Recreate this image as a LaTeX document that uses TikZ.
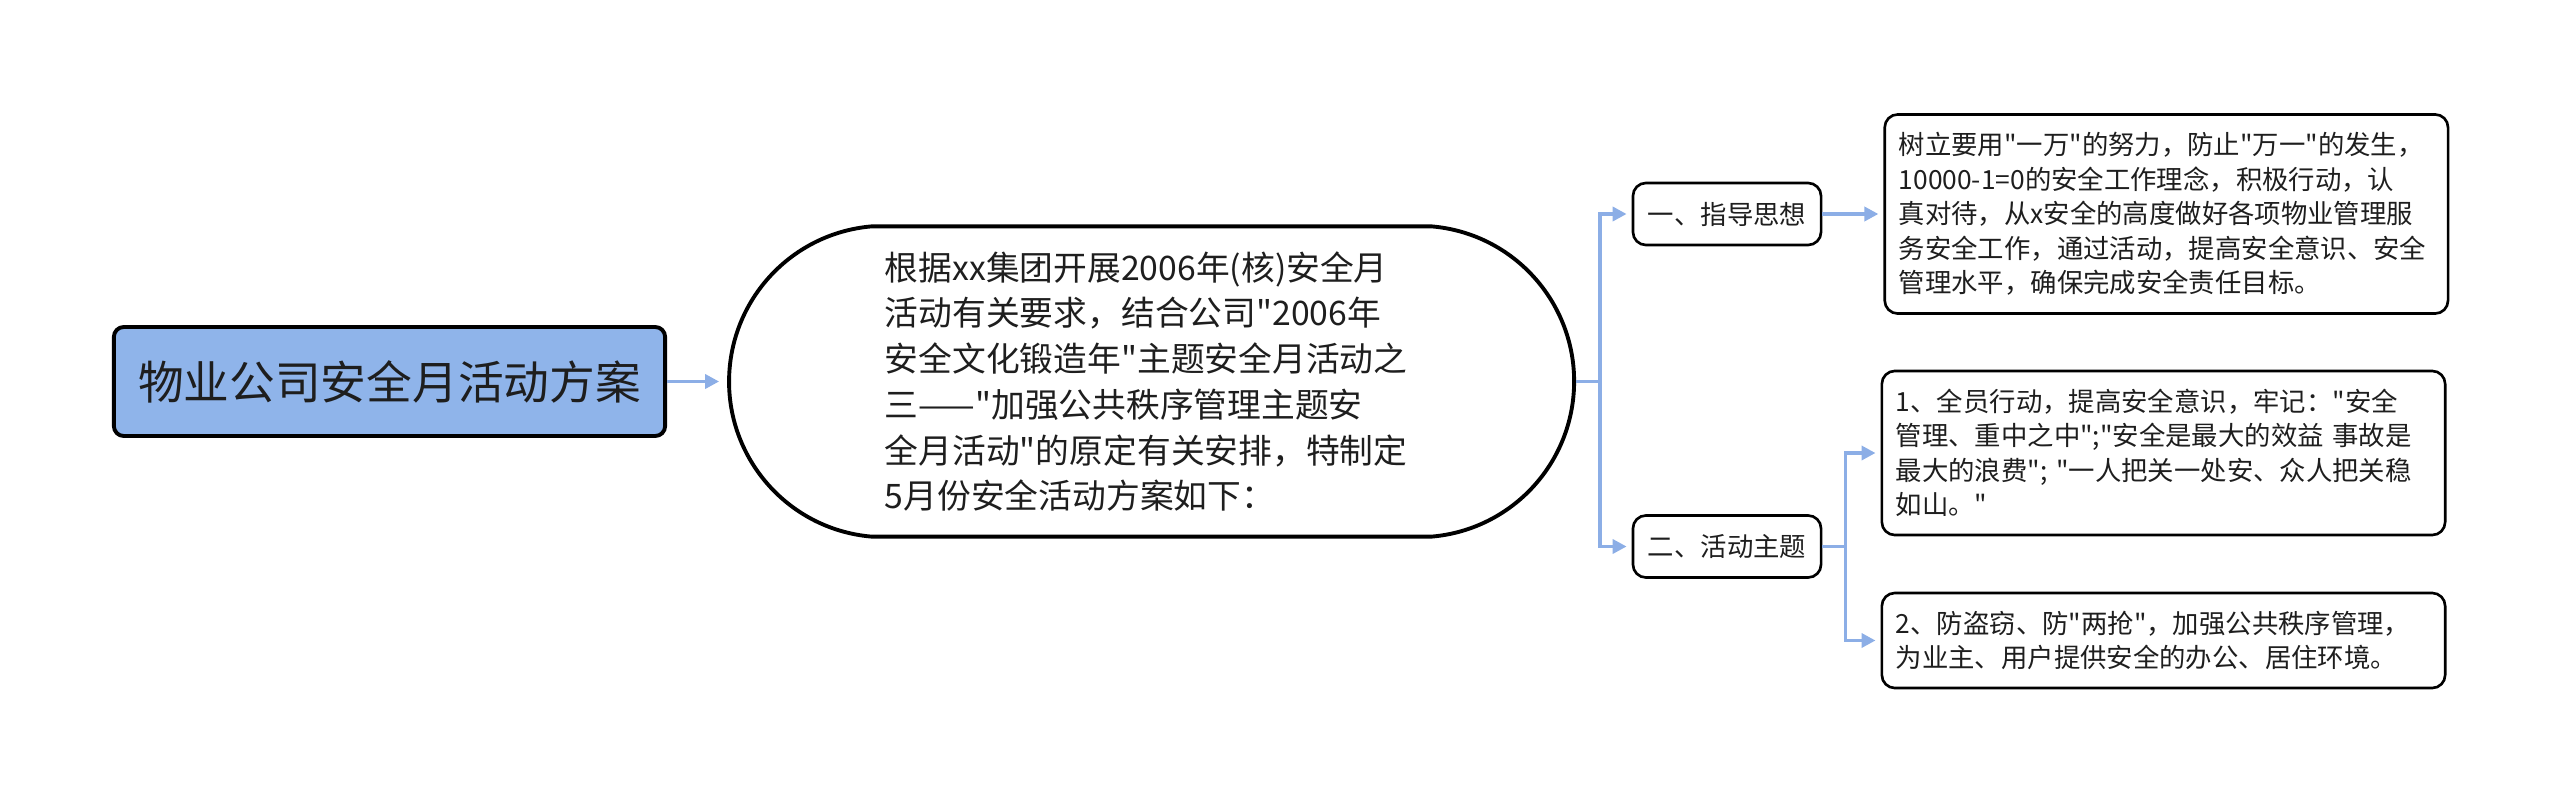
\documentclass[tikz,border=0pt]{standalone}
\usepackage{fontspec}
\newfontfamily\cjk{Noto Sans CJK SC}
\usetikzlibrary{positioning,shapes.misc,arrows.meta}
\definecolor{rootblue}{HTML}{8FB4EA}
\definecolor{linkblue}{HTML}{8CAEE6}
\definecolor{ink}{HTML}{1E1E1E}

\begin{document}
\begin{tikzpicture}[x=0.01cm,y=-0.01cm,
	root/.style={draw,line width=1.1pt,rounded corners=0.1cm,fill=rootblue,minimum width=5.51cm,minimum height=1.09cm,font=\cjk\fontsize{13pt}{15pt}\selectfont,text=ink},
	intro/.style={draw,line width=1.1pt,rounded rectangle,rounded rectangle arc length=170,minimum width=8.68cm,minimum height=3.1cm,text width=5.33cm,align=left,font=\cjk\fontsize{9.6pt}{13pt}\selectfont,text=ink},
	topic/.style={draw,line width=0.75pt,rounded corners=0.13cm,minimum width=1.88cm,minimum height=0.62cm,font=\cjk\fontsize{7.5pt}{9.8pt}\selectfont,text=ink},
	leaf/.style={topic,minimum width=5.63cm,text width=5.35cm,align=left},
	link/.style={draw=linkblue,line width=1pt},
	tip/.style={link,-{Triangle[length=0.14cm,width=0.14cm]},shorten >=0.05cm}]
	\useasboundingbox (0,0) rectangle (2560,803);
	
	\node[root] (title) at (389.5,381.5) {物业公司安全月活动方案};
	\node[intro,right=0.6cm of title] (intro) {根据xx集团开展2006年(核)安全月\\活动有关要求，结合公司"2006年\\安全文化锻造年"主题安全月活动之\\三——"加强公共秩序管理主题安\\全月活动"的原定有关安排，特制定\\5月份安全活动方案如下：};
	
	\node[topic] (guide) at (1727,214) {一、指导思想};
	\node[topic] (theme) at (1727,546.5) {二、活动主题};
	
	\node[leaf,minimum height=1.99cm,right=0.61cm of guide] (guidetxt) {树立要用"一万"的努力，防止"万一"的发生，\\10000-1=0的安全工作理念，积极行动，认\\真对待，从x安全的高度做好各项物业管理服\\务安全工作，通过活动，提高安全意识、安全\\管理水平，确保完成安全责任目标。};
	\node[leaf,minimum height=1.64cm] (act1) at (2163.5,453) {1、全员行动，提高安全意识，牢记："安全\\管理、重中之中";"安全是最大的效益~事故是\\最大的浪费";~"一人把关一处安、众人把关稳\\如山。"};
	\node[leaf,minimum height=0.95cm] (act2) at (2163.5,640.5) {2、防盗窃、防"两抢"，加强公共秩序管理，\\为业主、用户提供安全的办公、居住环境。};
	
	\coordinate[right=0.24cm of intro.east] (j1);
	\coordinate[right=0.23cm of theme.east] (j2);
	
	\draw[tip,shorten >=0.08cm] (title.east) -- (intro.west);
	\draw[link] (intro.east) -- (j1);
	\draw[tip] (j1) |- (guide.west);
	\draw[tip] (j1) |- (theme.west);
	\draw[tip] (guide) -- (guidetxt);
	\draw[link] (theme.east) -- (j2);
	\draw[tip] (j2) |- (act1.west);
	\draw[tip] (j2) |- (act2.west);
\end{tikzpicture}
\end{document}
